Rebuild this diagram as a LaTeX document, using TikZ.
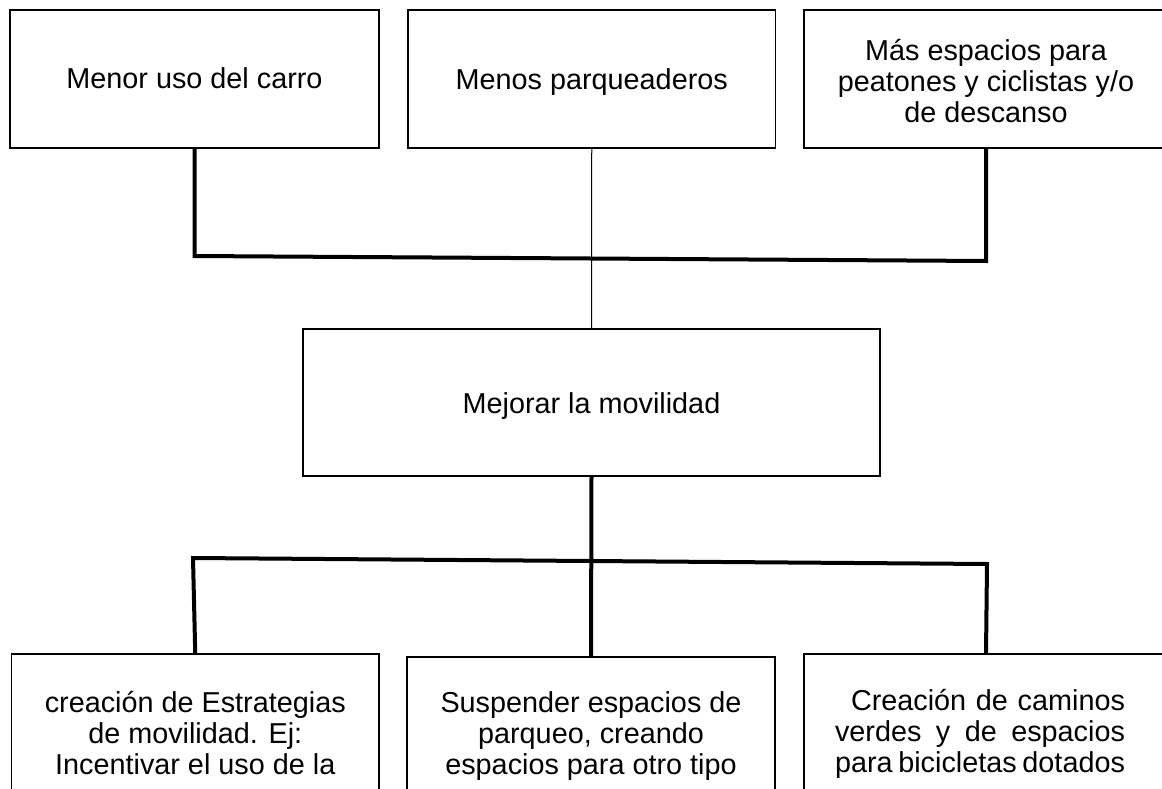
\documentclass[tikz,border=0pt]{standalone}
\usepackage{fontspec}
\setmainfont{Liberation Sans}
\newcommand\txtlines[1]{\vtop{\halign{\hfil##\hfil\cr#1\crcr}}}
\newcommand\jline[1]{\makebox[290pt][s]{#1}\hspace{12pt}}
\begin{document}
\begin{tikzpicture}[x=1pt,y=-1pt,
  box/.style={draw=black, line width=1.2pt, inner sep=0pt, outer sep=0pt,
    minimum height=0pt, anchor=north west,
    font=\fontsize{28.8}{31}\selectfont},
  heavyline/.style={line width=4pt, line join=miter},
  thinline/.style={line width=1pt}]
\useasboundingbox (0,0) rectangle (1162,789);
\clip (0,0) rectangle (1162,789);
\fill[white] (0,0) rectangle (1162,789);

% top row
\node[box, minimum width=369pt, text height=79pt, text depth=59pt] (top1) at (10,10)
  {\txtlines{Menor uso del carro}};
\node[box, minimum width=367.5pt, text height=80pt, text depth=58pt] (top2) at (408,10)
  {\txtlines{Menos parqueaderos}};
\node[box, minimum width=364pt, text height=51pt, text depth=87pt] (top3) at (804,10)
  {\txtlines{Más espacios para\cr peatones y ciclistas y/o\cr de descanso}};

% middle
\node[box, minimum width=577pt, text height=84pt, text depth=63pt] (mid) at (303,329)
  {\txtlines{Mejorar la movilidad}};

% bottom row
\node[box, minimum width=367.5pt, text height=58pt, text depth=150pt] (bot1) at (11.5,654)
  {\txtlines{creación de Estrategias\cr de movilidad. Ej:\cr Incentivar el uso de la}};
\node[box, minimum width=368pt, text height=55pt, text depth=150pt] (bot2) at (407,657)
  {\txtlines{Suspender espacios de\cr parqueo, creando\cr espacios para otro tipo}};
\node[box, minimum width=364pt, text height=56pt, text depth=150pt] (bot3) at (804,654)
  {\txtlines{\jline{\hspace{16pt}Creación de caminos}\cr
             \jline{verdes y de espacios}\cr
             \jline{para bicicletas dotados}}};

% connectors
\coordinate (j1) at (194.5,256);
\coordinate (j2) at (986,261);
\draw[heavyline] (top1.south) -- (j1) -- (j2) -- (top3.south);
\draw[thinline] (top2.south) -- (mid.north);

\coordinate (k1) at (193,558);
\coordinate (k2) at (987,564);
\draw[heavyline] (mid.south) -- (bot2.north);
\draw[heavyline] (bot1.north) -- (k1) -- (k2) -- (bot3.north);
\end{tikzpicture}
\end{document}
